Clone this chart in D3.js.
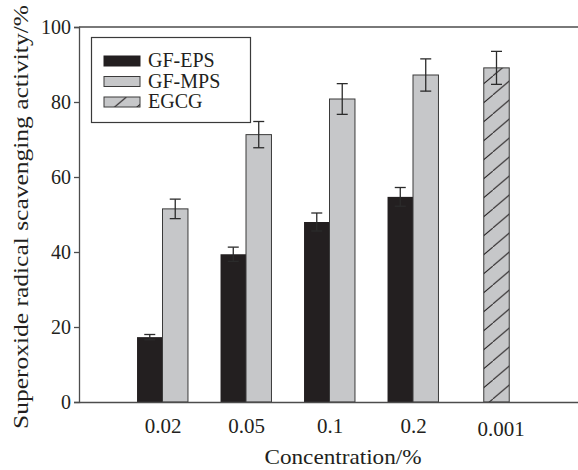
<!DOCTYPE html>
<html>
<head>
<meta charset="utf-8">
<script src="https://cdn.jsdelivr.net/npm/d3@7"></script>
<style>
  body { margin: 0; background: #fff; }
  svg text { font-family: "Liberation Serif", serif; fill: #231f20; }
</style>
</head>
<body>
<div id="chart"></div>
<script>
const categories = ["0.02", "0.05", "0.1", "0.2", "0.001"]
const epsValues = [17.3, 39.4, 48.0, 54.7]
const epsErrors = [0.7, 1.9, 2.4, 2.5]
const mpsValues = [51.5, 71.3, 80.8, 87.2]
const mpsErrors = [2.6, 3.5, 4.1, 4.3]
const egcgValue = [89.1]
const egcgError = [4.4]
const yTicks = [0, 20, 40, 60, 80, 100]

const width = 578,
    height = 470,
    margin = { top: 27, right: -2, bottom: 68, left: 79 };

const svg = d3.select("#chart")
    .append("svg")
    .attr("width", width)
    .attr("height", height)

const defs = svg.append("defs")
const hatch = defs.append("pattern")
    .attr("id", "hatch")
    .attr("patternUnits", "userSpaceOnUse")
    .attr("width", 22.4)
    .attr("height", 19)
hatch.append("rect")
    .attr("width", 22.4).attr("height", 19)
    .attr("fill", "#c6c7c9")
hatch.append("path")
    .attr("d", "M0,19L22.4,0")
    .attr("stroke", "#231f20")
    .attr("stroke-width", 1)

// x positions: 0 = y axis, groups at 1..5, right edge at 6
const x = d3.scaleLinear()
    .domain([0, 6])
    .range([margin.left, width - margin.right])

const y = d3.scaleLinear()
    .domain([0, 100])
    .range([height - margin.bottom, margin.top])

const barW = 0.305
const black = "#231f20", gray = "#c6c7c9", edge = "#3a3a3a"

// frame top line
svg.append("line")
    .attr("x1", x(0)).attr("x2", x(6))
    .attr("y1", y(100)).attr("y2", y(100))
    .attr("stroke", "#4d4d4d").attr("stroke-width", 1.3)

const epsData = epsValues.map((v, i) => ({ i: i + 1, v: v, e: epsErrors[i] }))
const mpsData = mpsValues.map((v, i) => ({ i: i + 1, v: v, e: mpsErrors[i] }))
const egcgData = egcgValue.map((v, i) => ({ i: 5, v: v, e: egcgError[i] }))

svg.selectAll(".eps")
    .data(epsData)
    .join("rect")
    .attr("x", d => x(d.i - barW))
    .attr("width", d => x(d.i) - x(d.i - barW))
    .attr("y", d => y(d.v))
    .attr("height", d => y(0) - y(d.v))
    .attr("fill", black)

svg.selectAll(".mps")
    .data(mpsData)
    .join("rect")
    .attr("x", d => x(d.i))
    .attr("width", d => x(d.i + barW) - x(d.i))
    .attr("y", d => y(d.v))
    .attr("height", d => y(0) - y(d.v))
    .attr("fill", gray)
    .attr("stroke", edge)
    .attr("stroke-width", 1)

svg.selectAll(".egcg")
    .data(egcgData)
    .join("rect")
    .attr("x", d => x(d.i - barW / 2))
    .attr("width", d => x(d.i + barW / 2) - x(d.i - barW / 2))
    .attr("y", d => y(d.v))
    .attr("height", d => y(0) - y(d.v))
    .attr("fill", "url(#hatch)")
    .attr("stroke", edge)
    .attr("stroke-width", 1)

// error bars
const errData = epsData.map(d => ({ cx: d.i - barW / 2, v: d.v, e: d.e }))
    .concat(mpsData.map(d => ({ cx: d.i + barW / 2, v: d.v, e: d.e })))
    .concat(egcgData.map(d => ({ cx: d.i, v: d.v, e: d.e })))

const err = svg.selectAll(".err")
    .data(errData)
    .join("g")
    .attr("stroke", "#2b2b2b")
    .attr("stroke-width", 1.3)
err.append("line")
    .attr("x1", d => x(d.cx)).attr("x2", d => x(d.cx))
    .attr("y1", d => y(d.v - d.e)).attr("y2", d => y(d.v + d.e))
err.append("line")
    .attr("x1", d => x(d.cx) - 5.5).attr("x2", d => x(d.cx) + 5.5)
    .attr("y1", d => y(d.v + d.e)).attr("y2", d => y(d.v + d.e))
err.append("line")
    .attr("x1", d => x(d.cx) - 5.5).attr("x2", d => x(d.cx) + 5.5)
    .attr("y1", d => y(d.v - d.e)).attr("y2", d => y(d.v - d.e))

// axes
const yAxis = svg.append("g")
    .attr("transform", `translate(${x(0)},0)`)
    .call(d3.axisLeft(y).tickValues(yTicks).tickSize(5).tickPadding(3))
yAxis.selectAll("path, line").attr("stroke", "#4d4d4d").attr("stroke-width", 1.3)
yAxis.selectAll("text").style("font-size", "20px").attr("fill", "#231f20")

const xAxis = svg.append("g")
    .attr("transform", `translate(0,${y(0)})`)
    .call(d3.axisBottom(x)
        .tickValues(d3.range(1, categories.length + 1))
        .tickFormat((d, i) => categories[i])
        .tickSize(0)
        .tickPadding(14))
xAxis.select(".domain").attr("stroke", "#4d4d4d").attr("stroke-width", 1.3)
xAxis.selectAll("text").style("font-size", "21px").attr("fill", "#231f20")
    .attr("dy", (d, i) => i === 4 ? "0.95em" : "0.8em")
    .attr("dx", (d, i) => i === 4 ? 4 : 0)

// axis titles
svg.append("text")
    .attr("x", 343)
    .attr("y", 464)
    .attr("text-anchor", "middle")
    .attr("textLength", 157)
    .attr("lengthAdjust", "spacingAndGlyphs")
    .style("font-size", "21px")
    .text("Concentration/%")

svg.append("text")
    .attr("transform", "translate(28,217) rotate(-90)")
    .attr("text-anchor", "middle")
    .attr("textLength", 424)
    .attr("lengthAdjust", "spacingAndGlyphs")
    .style("font-size", "21px")
    .text("Superoxide radical scavenging activity/%")

// legend
const legendNames = ["GF-EPS", "GF-MPS", "EGCG"]
const legendFills = [black, gray, "url(#hatch)"]
const legend = svg.append("g")
legend.append("rect")
    .attr("x", 91.5).attr("y", 37.5)
    .attr("width", 159).attr("height", 85)
    .attr("fill", "#fff")
    .attr("stroke", "#3a3a3a").attr("stroke-width", 1.2)
const items = legend.selectAll(".item")
    .data(legendNames)
    .join("g")
    .attr("transform", (d, i) => `translate(104,${56 + i * 20.5})`)
items.append("rect")
    .attr("width", 36).attr("height", 10)
    .attr("fill", (d, i) => legendFills[i])
    .attr("stroke", (d, i) => i === 0 ? black : edge)
    .attr("stroke-width", 1)
items.append("text")
    .attr("x", 44)
    .attr("y", 11)
    .style("font-size", "20px")
    .text(d => d)
</script>
</body>
</html>
